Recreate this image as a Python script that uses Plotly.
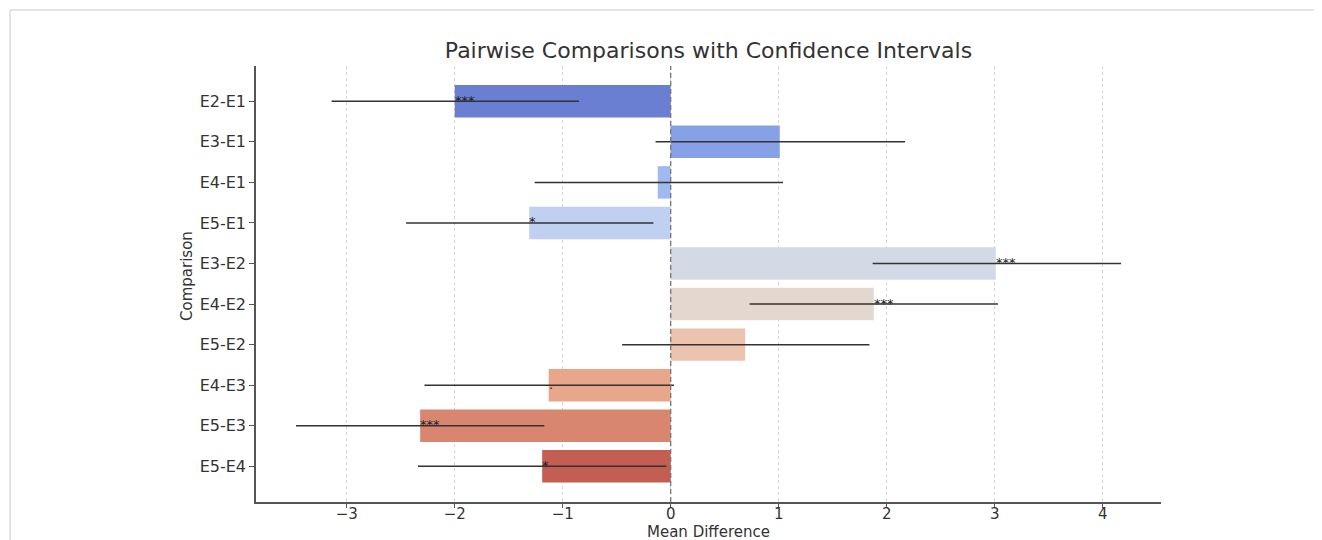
import plotly.graph_objects as go

comparisons = ["E2-E1", "E3-E1", "E4-E1", "E5-E1", "E3-E2", "E4-E2", "E5-E2", "E4-E3", "E5-E3", "E5-E4"]
mean_diff = [-2.00, 1.01, -0.12, -1.31, 3.01, 1.88, 0.69, -1.13, -2.32, -1.19]
ci_lower = [-3.14, -0.14, -1.26, -2.45, 1.87, 0.73, -0.45, -2.28, -3.47, -2.34]
ci_upper = [-0.85, 2.17, 1.04, -0.16, 4.17, 3.03, 1.84, 0.03, -1.17, -0.04]
significance = ["***", "", "", "*", "***", "***", "", ".", "***", "*"]
bar_colors = ["#6a7fd1", "#87a1e6", "#a0b9f0", "#bfd0f0", "#d3dae6",
              "#e3d7cf", "#ecc3ae", "#e8a68b", "#d98670", "#c25e52"]
x_ticks = [-3, -2, -1, 0, 1, 2, 3, 4]

err_plus = [u - m for u, m in zip(ci_upper, mean_diff)]
err_minus = [m - l for m, l in zip(mean_diff, ci_lower)]

# page body has an 8px offset; figure is sized to compensate
W, H = 1314, 532
L, R, T, B = 248, 161, 58, 38
pw, ph = W - L - R, H - T - B

fig = go.Figure()
fig.add_trace(go.Bar(
    x=mean_diff, y=comparisons, orientation="h",
    marker=dict(color=bar_colors, line=dict(width=0)),
    width=0.8,
    error_x=dict(type="data", symmetric=False, array=err_plus, arrayminus=err_minus,
                 color="#333333", thickness=1.5, width=0),
    showlegend=False, hoverinfo="skip",
))

for c, m, s in zip(comparisons, mean_diff, significance):
    if s:
        fig.add_annotation(x=m, y=c, text=s, showarrow=False, xanchor="left",
                           yanchor="middle", xshift=-2, yshift=1,
                           font=dict(family="DejaVu Sans", size=13, color="#222222"))

fig.add_vline(x=0, line=dict(color="#777777", width=1.3, dash="5px,3px"))

x0p = (2 - L) / pw
x1p = (W - L) / pw
ytp = 1 + (T - 2) / ph
ybp = (ph + T - H) / ph
fig.add_shape(type="line", xref="paper", yref="paper", x0=x0p, x1=x1p, y0=ytp, y1=ytp,
              line=dict(color="#c8c8c8", width=1))
fig.add_shape(type="line", xref="paper", yref="paper", x0=x0p, x1=x0p, y0=ytp, y1=ybp,
              line=dict(color="#c8c8c8", width=1))

# axis titles placed as annotations relative to the plot area
fig.add_annotation(text="Mean Difference", xref="paper", yref="paper", x=0.5,
                   y=-(524 - (T + ph)) / ph, xanchor="center", yanchor="middle",
                   showarrow=False, font=dict(size=15, color="#333333"))
fig.add_annotation(text="Comparison", xref="paper", yref="paper", x=-(L - 179) / pw,
                   y=0.5 - (276 - 8 - (T + ph / 2)) / ph, xanchor="center", yanchor="middle",
                   textangle=-90, showarrow=False, font=dict(size=15, color="#333333"))

fig.update_layout(
    width=W, height=H,
    margin=dict(l=L, r=R, t=T, b=B, autoexpand=False),
    paper_bgcolor="white", plot_bgcolor="white",
    font=dict(family="DejaVu Sans", color="#333333"),
    title=dict(text="Pairwise Comparisons with Confidence Intervals",
               x=(L + pw / 2) / W, xanchor="center", y=1 - 42 / H, yanchor="middle",
               font=dict(size=22, color="#333333")),
    xaxis=dict(range=[-3.84, 4.54], tickvals=x_ticks, showgrid=True, automargin=False,
               gridcolor="#d4d4d4", griddash="3px,3px", gridwidth=1, zeroline=False,
               showline=True, linecolor="#555555", linewidth=1.5,
               ticks="outside", ticklen=4, tickcolor="#555555", ticklabelstandoff=-7,
               tickfont=dict(size=15, color="#333333")),
    yaxis=dict(categoryorder="array", categoryarray=comparisons, range=[9.88, -0.87],
               showgrid=False, zeroline=False, showline=True, linecolor="#555555",
               linewidth=1.5, ticks="outside", ticklen=5, tickcolor="#555555", automargin=False,
               tickfont=dict(size=16, color="#333333")),
    bargap=0.2,
)

fig.write_html("out.html")
